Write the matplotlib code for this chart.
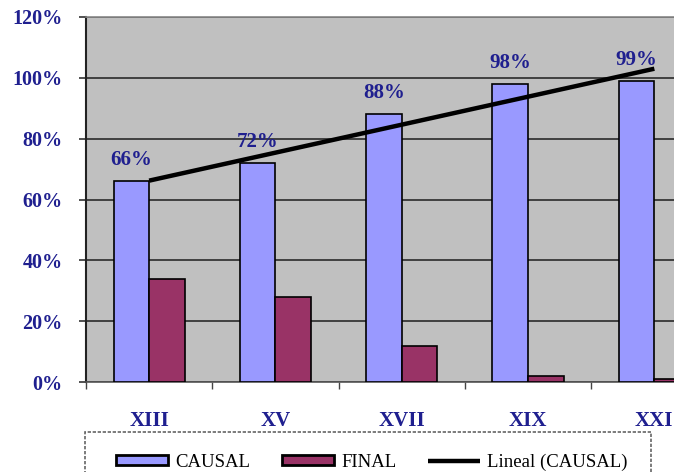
import numpy as np
import matplotlib
matplotlib.use("Agg")
import matplotlib.pyplot as plt
from matplotlib.patches import Rectangle
from matplotlib.ticker import FixedLocator, FuncFormatter

# Siglos y porcentajes por tipo de explicación
siglos = ["XIII", "XV", "XVII", "XIX", "XXI"]
causal = [66, 72, 88, 98, 99]
final = [34, 28, 12, 2, 1]
y_ticks = [0, 20, 40, 60, 80, 100, 120]

navy = "#1f1f8f"
serif = ["Liberation Serif", "DejaVu Serif"]

W, H = 674, 472
fig = plt.figure(figsize=(W / 100, H / 100), dpi=100)
fig.patch.set_facecolor("white")

# Plot area (the right part runs past the figure edge)
left_px, top_px, bottom_px = 86, 17, 382
cat_px = 126.3
ax = fig.add_axes([left_px / W, (H - bottom_px) / H,
                   len(siglos) * cat_px / W, (bottom_px - top_px) / H])
ax.set_facecolor("#C0C0C0")

x = np.arange(len(siglos))
w = 0.282
b1 = ax.bar(x - w / 2, causal, width=w, color="#9999FF", edgecolor="black",
            linewidth=1.2, zorder=3, label="CAUSAL")
b2 = ax.bar(x + w / 2, final, width=w, color="#993366", edgecolor="black",
            linewidth=1.2, zorder=3, label="FINAL")

# Linear trend of the CAUSAL series
coef = np.polyfit(x, causal, 1)
tl, = ax.plot(x, np.polyval(coef, x), color="black", linewidth=3.2,
              solid_capstyle="butt", zorder=4, label="Lineal (CAUSAL)")

for xi, v in zip(x, causal):
    ax.annotate(f"{v}%", (xi - w / 2, v), xytext=(0, 8),
                textcoords="offset points", ha="center", va="bottom",
                fontsize=15, fontweight="bold", color=navy, family=serif,
                zorder=5)

ax.set_xlim(-0.5, len(siglos) - 0.5)
ax.set_ylim(0, 120)
ax.set_yticks(y_ticks)
ax.yaxis.set_major_formatter(FuncFormatter(lambda v, p: f"{v:.0f}%"))
ax.yaxis.grid(True, color="#2a2a2a", linewidth=1.2, zorder=1)
ax.set_axisbelow(True)

ax.set_xticks(x)
ax.set_xticklabels(siglos)
ax.xaxis.set_minor_locator(FixedLocator(np.arange(-0.5, len(siglos), 1.0)))
ax.tick_params(axis="x", which="major", length=0, pad=21)
ax.tick_params(axis="x", which="minor", length=5, width=1, color="#444444")
ax.tick_params(axis="y", which="major", length=5, width=1.2, pad=12,
               color="#333333")

for lab in ax.get_xticklabels() + ax.get_yticklabels():
    lab.set_family(serif)
    lab.set_fontweight("bold")
    lab.set_color(navy)
for lab in ax.get_xticklabels():
    lab.set_fontsize(15)
for lab in ax.get_yticklabels():
    lab.set_fontsize(14.5)

ax.spines["left"].set_color("#222222")
ax.spines["left"].set_linewidth(1.5)
ax.spines["bottom"].set_color("#555555")
ax.spines["bottom"].set_linewidth(1.2)
ax.spines["bottom"].set_linestyle((0, (2, 1)))
ax.spines["top"].set_color("#888888")
ax.spines["top"].set_linewidth(1.2)
ax.spines["top"].set_linestyle((0, (2, 1)))
ax.spines["right"].set_visible(False)

# Legend box below the axis
fig.patches.append(Rectangle((85 / W, -0.05), (651 - 85) / W, 0.05 + (H - 432) / H,
                             transform=fig.transFigure, facecolor="white",
                             edgecolor="#666666", linewidth=1.2,
                             linestyle=(0, (2, 1)), zorder=0))
leg = fig.legend([b1, b2, tl], ["CAUSAL", "FINAL", "Lineal (CAUSAL)"],
                 ncol=3, loc="center left",
                 bbox_to_anchor=(116 / W, (H - 462) / H), frameon=False,
                 prop={"family": serif, "size": 13.5},
                 handlelength=2.75, handleheight=0.5, handletextpad=0.4,
                 columnspacing=1.7, borderaxespad=0, borderpad=0)
for p in leg.get_patches():
    p.set_linewidth(2)

fig.savefig("out.png", dpi=100, facecolor="white")
